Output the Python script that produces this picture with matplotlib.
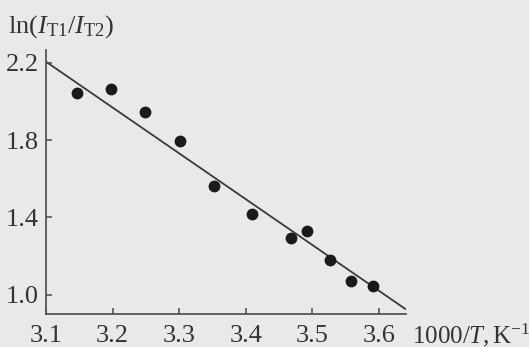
import matplotlib
matplotlib.use("Agg")
import matplotlib.pyplot as plt
import numpy as np

# Data
inv_T = [3.147, 3.198, 3.249, 3.302, 3.353, 3.409, 3.468, 3.492, 3.527, 3.559, 3.591]
ln_ratio = [2.044, 2.065, 1.944, 1.797, 1.562, 1.419, 1.291, 1.331, 1.177, 1.070, 1.046]
fit_x = [3.10, 3.641]
fit_y = [2.206, 0.923]
xticks = [3.1, 3.2, 3.3, 3.4, 3.5, 3.6]
yticks = [1.0, 1.4, 1.8, 2.2]

plt.rcParams['font.family'] = ['Liberation Serif', 'DejaVu Serif']
plt.rcParams['mathtext.fontset'] = 'custom'
plt.rcParams['mathtext.rm'] = 'Liberation Serif'
plt.rcParams['mathtext.it'] = 'Liberation Serif:italic'

bg = '#e9e9e9'
ink = '#333333'

fig = plt.figure(figsize=(5.29, 3.47), dpi=100, facecolor=bg)
ax = fig.add_axes([0.087, 0.095, 0.6805, 0.761])
ax.set_facecolor(bg)

ax.plot(fit_x, fit_y, color='#3a3a3a', lw=1.3, solid_capstyle='butt')
ax.plot(inv_T, ln_ratio, 'o', color='#1a1a1a', markersize=8.5, markeredgewidth=0)

ax.set_xlim(3.1, 3.641)
ax.set_ylim(0.899, 2.267)
ax.set_xticks(xticks)
ax.set_xticklabels([f"{v:.1f}" for v in xticks])
ax.set_yticks(yticks)
ax.set_yticklabels([f"{v:.1f}" for v in yticks])

for s in ['top', 'right']:
    ax.spines[s].set_visible(False)
for s in ['left', 'bottom']:
    ax.spines[s].set_color('#555555')
    ax.spines[s].set_linewidth(1.3)

ax.tick_params(direction='in', length=4, width=1.2, color='#555555',
               labelsize=19, labelcolor=ink)
ax.tick_params(axis='x', pad=8)
ax.tick_params(axis='y', pad=5)

fig.text(8 / 529, 1 - 33 / 347, r'$\mathrm{ln}(I_{\mathrm{T1}}/I_{\mathrm{T2}})$',
         fontsize=19, color=ink, ha='left', va='baseline')
fig.text(412 / 529, 1 - 343 / 347, r'$\mathrm{1000/}T\mathrm{,}\,\mathrm{K}^{-1}$',
         fontsize=18, color=ink, ha='left', va='baseline')

fig.savefig('out.png', dpi=100, facecolor=bg)
